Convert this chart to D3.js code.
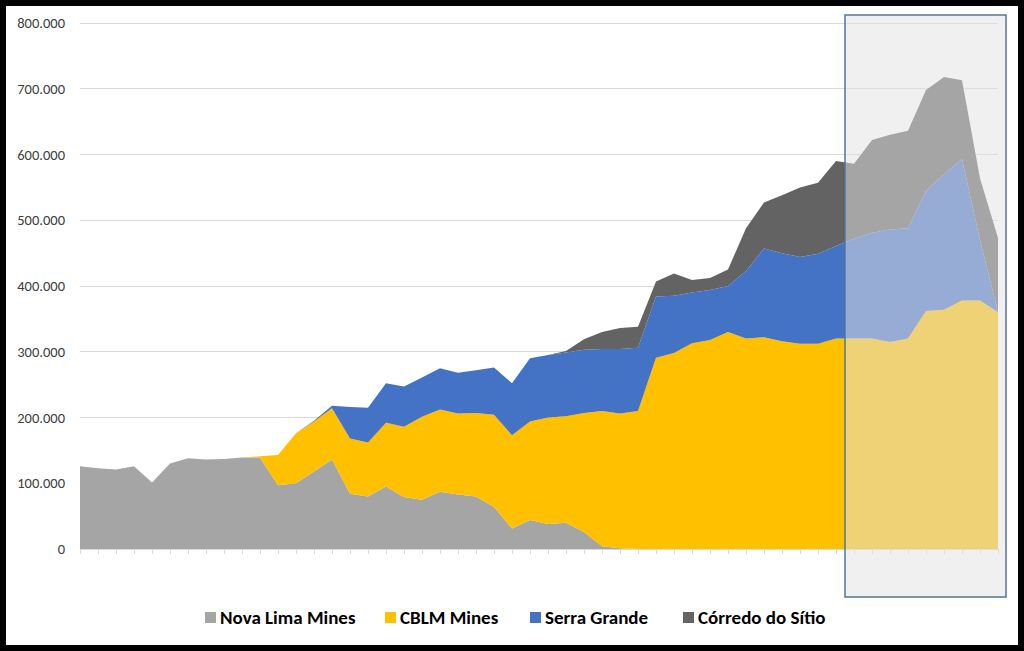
<!DOCTYPE html>
<html><head><meta charset="utf-8">
<script src="https://cdn.jsdelivr.net/npm/d3@7"></script>
<style>html,body{margin:0;padding:0;background:#000;} svg{display:block}</style>
</head><body>
<svg id="c" width="1024" height="651"></svg>
<script>
const categories = ["P1","P2","P3","P4","P5","P6","P7","P8","P9","P10","P11","P12","P13","P14","P15","P16","P17","P18","P19","P20","P21","P22","P23","P24","P25","P26","P27","P28","P29","P30","P31","P32","P33","P34","P35","P36","P37","P38","P39","P40","P41","P42","P43","P44","P45","P46","P47","P48","P49","P50","P51","P52"];
const seriesNames = ["Nova Lima Mines","CBLM Mines","Serra Grande","Córredo do Sítio"];
const novaLima = [126000,123000,121000,126000,101000,130000,138000,136000,137000,139000,139000,97000,100000,118000,136000,84000,80000,95000,79000,75000,87000,83000,80000,64000,31000,44000,38000,40000,26000,4000,1000,0,0,0,0,0,0,0,0,0,0,0,0,0,0,0,0,0,0,0,0,0];
const cblm = [0,0,0,0,0,0,0,0,0,0,2000,46000,76000,76000,78000,84000,82000,97000,107000,126000,125000,123000,127000,140000,142000,150000,162000,162000,181000,206000,205000,210000,291000,298000,313000,318000,330000,320000,322000,316000,312000,312000,320000,320000,320000,315000,320000,362000,364000,378000,378000,360000];
const serraGrande = [0,0,0,0,0,0,0,0,0,0,0,0,0,1000,4000,48000,53000,60000,61000,60000,63000,62000,65000,72000,79000,96000,95000,97000,96000,94000,98000,96000,93000,87000,77000,76000,70000,103000,135000,134000,132000,137000,141000,152000,161000,171000,168000,183000,206000,215000,92000,1000];
const corrego = [0,0,0,0,0,0,0,0,0,0,0,0,0,0,0,0,0,0,0,0,0,0,0,0,0,0,0,2000,16000,26000,32000,32000,23000,34000,19000,18000,25000,65000,70000,88000,106000,108000,129000,114000,141000,144000,148000,153000,148000,120000,94000,112000];
const yTicks = [0,100000,200000,300000,400000,500000,600000,700000,800000];
const colors = ["#a5a5a5","#ffc000","#4472c4","#636363"];

const svg = d3.select("#c");
svg.append("rect").attr("x",6).attr("y",6).attr("width",1012).attr("height",639).attr("fill","#fff");

const x = d3.scaleLinear().domain([0, categories.length-1]).range([80, 998]);
const y = d3.scaleLinear().domain([0, 800000]).range([549, 23]);

const rows = categories.map((c,i)=>({cat:c, i, [seriesNames[0]]:novaLima[i], [seriesNames[1]]:cblm[i], [seriesNames[2]]:serraGrande[i], [seriesNames[3]]:corrego[i]}));
const stacked = d3.stack().keys(seriesNames)(rows);

// gridlines
svg.append("g").selectAll("line").data(yTicks.filter(d=>d>0)).join("line")
  .attr("x1",80).attr("x2",998).attr("y1",d=>y(d)).attr("y2",d=>y(d))
  .attr("stroke","#d9d9d9").attr("stroke-width",1).attr("shape-rendering","crispEdges");

const area = d3.area().x(d=>x(d.data.i)).y0(d=>y(d[0])).y1(d=>y(d[1]));
svg.append("g").selectAll("path").data(stacked).join("path")
  .attr("d",area).attr("fill",(d,i)=>colors[i]);

// x axis
const xAxis = d3.axisBottom(x).tickValues(d3.range(categories.length)).tickSize(5).tickFormat("");
const gx = svg.append("g").attr("transform","translate(0,549)").call(xAxis);
gx.selectAll("line,path").attr("stroke","#d9d9d9");

// y axis labels
const loc = d3.formatLocale({decimal:",",thousands:".",grouping:[3],currency:["",""]});
const fmt = loc.format(",.0f");
const gy = svg.append("g").attr("transform","translate(65,0)")
  .call(d3.axisLeft(y).tickValues(yTicks).tickFormat(fmt).tickSize(0).tickPadding(0));
gy.select(".domain").remove();
gy.selectAll("text").attr("font-family","Carlito, 'Liberation Sans', Arial, sans-serif").attr("font-size","14.5px").attr("fill","#404040");

// highlight box
svg.append("rect").attr("x",(x(42)+x(43))/2).attr("y",15).attr("width",x(51)+8-(x(42)+x(43))/2).attr("height",582)
  .attr("fill","#e2e2e2").attr("fill-opacity",0.52).attr("stroke","#52769e").attr("stroke-width",1.5);

// legend
const legendX = [205,385,530,683];
const lg = svg.append("g").selectAll("g").data(seriesNames).join("g")
  .attr("transform",(d,i)=>`translate(${legendX[i]},617)`);
lg.append("rect").attr("x",0).attr("y",-5).attr("width",11).attr("height",11).attr("fill",(d,i)=>colors[i]);
lg.append("text").attr("x",15).attr("y",0).attr("dy","0.35em").text(d=>d)
  .attr("font-family","Carlito, 'Liberation Sans', Arial, sans-serif").attr("font-weight","bold").attr("font-size","19px").attr("fill","#000");
</script>
</body></html>
